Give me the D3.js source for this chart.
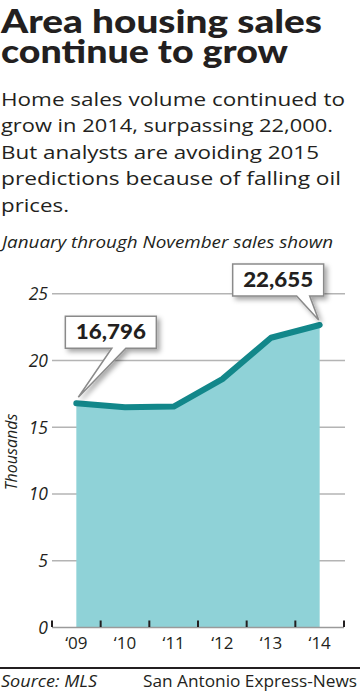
<!DOCTYPE html>
<html>
<head>
<meta charset="utf-8">
<script src="https://cdn.jsdelivr.net/npm/d3@7"></script>
<style>
  body { margin: 0; background: #fff; }
  svg { display: block; }
</style>
</head>
<body>
<div class="chart"></div>
<script>
(function(){

  var width = 360;
  var height = 692;

  var years = ['\u201809', '\u201810', '\u201811', '\u201812', '\u201813', '\u201814'];
  var sales = [16.796, 16.5, 16.55, 18.6, 21.7, 22.655];   // thousands
  var yTicks = [0, 5, 10, 15, 20, 25];
  var callouts = [
    { index: 0, label: '16,796' },
    { index: 5, label: '22,655' }
  ];

  var titleLines = ['Area housing sales', 'continue to grow'];
  var introLines = [
    'Home sales volume continued to',
    'grow in 2014, surpassing 22,000.',
    'But analysts are avoiding 2015',
    'predictions because of falling oil',
    'prices.'
  ];

  // widths the lines take up in the printed graphic
  var titleWidths = [321, 287];
  var introWidths = [344, 332, 318, 340, 68];

  var ink = '#231f20';

  var svg = d3.select('.chart')
              .append('svg')
              .attr('width', width)
              .attr('height', height);

  var defs = svg.append('defs');
  defs.append('filter')
      .attr('id', 'shadow')
      .attr('x', '-20%').attr('y', '-20%')
      .attr('width', '150%').attr('height', '160%')
      .append('feDropShadow')
      .attr('dx', 3).attr('dy', 3)
      .attr('stdDeviation', 2.5)
      .attr('flood-color', '#000')
      .attr('flood-opacity', 0.35);

  // headline, one text block with a tspan per line
  svg.append('text')
     .attr('class', 'title')
     .attr('font-family', 'Lato')
     .attr('font-weight', 900)
     .attr('font-size', '33px')
     .attr('fill', ink)
     .selectAll('tspan')
     .data(titleLines)
     .enter()
     .append('tspan')
     .attr('x', 1)
     .attr('y', function(d, i) { return 33 + i * 30; })
     .attr('textLength', function(d, i) { return titleWidths[i]; })
     .attr('lengthAdjust', 'spacingAndGlyphs')
     .text(function(d) { return d; });

  svg.selectAll('text.intro')
     .data(introLines)
     .enter()
     .append('text')
     .attr('class', 'intro')
     .attr('x', 1)
     .attr('y', function(d, i) { return 105.5 + i * 26.6; })
     .attr('font-family', 'Open Sans')
     .attr('font-size', '19px')
     .attr('textLength', function(d, i) { return introWidths[i]; })
     .attr('lengthAdjust', 'spacingAndGlyphs')
     .attr('fill', ink)
     .text(function(d) { return d; });

  svg.append('text')
     .attr('x', 2)
     .attr('y', 248)
     .attr('font-family', 'Open Sans')
     .attr('font-style', 'italic')
     .attr('font-size', '16px')
     .attr('textLength', 331)
     .attr('lengthAdjust', 'spacingAndGlyphs')
     .attr('fill', ink)
     .text('January through November sales shown');

  // scales
  var x = d3.scaleBand()
            .domain(years)
            .range([52, 344])
            .paddingInner(0)
            .paddingOuter(0);

  var y = d3.scaleLinear()
            .domain([0, 25])
            .range([627.5, 293.7]);

  function px(d, i) { return x(years[i]) + x.bandwidth() / 2; }

  // gridlines
  svg.selectAll('line.grid')
     .data(yTicks.filter(function(t) { return t > 0; }))
     .enter()
     .append('line')
     .attr('class', 'grid')
     .attr('x1', 52)
     .attr('x2', 345)
     .attr('y1', function(d) { return y(d); })
     .attr('y2', function(d) { return y(d); })
     .attr('stroke', '#b4b4b4')
     .attr('stroke-width', 1.5);

  // y labels
  svg.selectAll('text.ytick')
     .data(yTicks)
     .enter()
     .append('text')
     .attr('class', 'ytick')
     .attr('x', 48)
     .attr('y', function(d) { return y(d); })
     .attr('dy', '0.36em')
     .attr('text-anchor', 'end')
     .attr('font-family', 'Open Sans')
     .attr('font-style', 'italic')
     .attr('font-size', '17.5px')
     .attr('fill', ink)
     .text(function(d) { return d; });

  svg.append('text')
     .attr('transform', 'translate(17,452) rotate(-90)')
     .attr('text-anchor', 'middle')
     .attr('font-family', 'Open Sans')
     .attr('font-style', 'italic')
     .attr('font-size', '16px')
     .attr('fill', ink)
     .text('Thousands');

  // area and line
  var area = d3.area()
               .x(px)
               .y0(y(0))
               .y1(function(d) { return y(d); });

  var line = d3.line()
               .x(px)
               .y(function(d) { return y(d); });

  svg.append('path')
     .datum(sales)
     .attr('d', area)
     .attr('fill', '#8fd2d7');

  svg.append('path')
     .datum(sales)
     .attr('d', line)
     .attr('fill', 'none')
     .attr('stroke', '#12878a')
     .attr('stroke-width', 6)
     .attr('stroke-linecap', 'round')
     .attr('stroke-linejoin', 'round');

  // x axis
  svg.append('line')
     .attr('x1', 52).attr('x2', 344)
     .attr('y1', y(0)).attr('y2', y(0))
     .attr('stroke', '#9a9a9a')
     .attr('stroke-width', 1.5);

  var edges = years.map(function(d) { return x(d); }).concat([x.range()[1]]);
  svg.selectAll('line.xtick')
     .data(edges)
     .enter()
     .append('line')
     .attr('class', 'xtick')
     .attr('x1', function(d) { return d; })
     .attr('x2', function(d) { return d; })
     .attr('y1', y(0) - 7)
     .attr('y2', y(0) - 0.5)
     .attr('stroke', ink)
     .attr('stroke-width', 2);

  svg.selectAll('text.xlabel')
     .data(years)
     .enter()
     .append('text')
     .attr('class', 'xlabel')
     .attr('x', px)
     .attr('y', 649)
     .attr('text-anchor', 'middle')
     .attr('font-family', 'Open Sans')
     .attr('font-size', '17px')
     .attr('fill', ink)
     .text(function(d) { return d; });

  // callouts
  var boxW = 91, boxH = 32;
  var boxes = [
    { dx: -11, dy: -87, tip: [2, -6], base: [8, 22] },
    { dx: -87, dy: -61, tip: [-1, -5], base: [-20, -7] }
  ];

  callouts.forEach(function(c, k) {
    var cx = px(null, c.index), cy = y(sales[c.index]);
    var b = boxes[k];
    var bx = cx + b.dx, by = cy + b.dy;
    var g = svg.append('g').attr('filter', 'url(#shadow)');
    var tx = cx + b.tip[0], ty = cy + b.tip[1];
    var p1 = bx + boxW / 2 + b.base[0] - 7;
    var p2 = bx + boxW / 2 + b.base[0] + 7;
    if (k === 1) { p1 = bx + boxW + b.base[0] - 7; p2 = bx + boxW + b.base[0] + 6; }
    var path = 'M' + bx + ',' + by +
               'H' + (bx + boxW) +
               'V' + (by + boxH) +
               'H' + p2 +
               'L' + tx + ',' + ty +
               'L' + p1 + ',' + (by + boxH) +
               'H' + bx + 'Z';
    g.append('path')
     .attr('d', path)
     .attr('fill', '#fff')
     .attr('stroke', '#8a8a8a')
     .attr('stroke-width', 1.5);
    svg.append('text')
       .attr('x', bx + boxW / 2)
       .attr('y', by + 23)
       .attr('text-anchor', 'middle')
       .attr('font-family', 'Lato')
       .attr('font-weight', 900)
       .attr('font-size', '20px')
       .attr('textLength', 70)
       .attr('lengthAdjust', 'spacingAndGlyphs')
       .attr('fill', ink)
       .text(c.label);
  });

  // footer
  svg.append('line')
     .attr('x1', 0).attr('x2', width)
     .attr('y1', 668).attr('y2', 668)
     .attr('stroke', ink)
     .attr('stroke-width', 2);

  svg.append('text')
     .attr('x', 1)
     .attr('y', 687)
     .attr('font-family', 'Open Sans')
     .attr('font-style', 'italic')
     .attr('font-size', '16px')
     .attr('textLength', 96)
     .attr('lengthAdjust', 'spacingAndGlyphs')
     .attr('fill', ink)
     .text('Source: MLS');

  svg.append('text')
     .attr('x', 143)
     .attr('y', 687)
     .attr('font-family', 'Open Sans')
     .attr('font-size', '16px')
     .attr('textLength', 214)
     .attr('lengthAdjust', 'spacingAndGlyphs')
     .attr('fill', ink)
     .text('San Antonio Express-News');

})();
</script>
</body>
</html>
